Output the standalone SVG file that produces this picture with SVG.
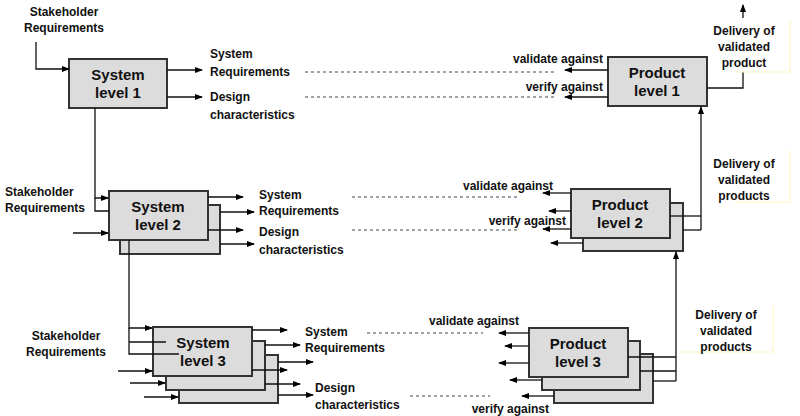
<svg xmlns="http://www.w3.org/2000/svg" width="800" height="416" viewBox="0 0 800 416">
<defs>
<marker id="a" markerWidth="8" markerHeight="6" refX="7" refY="3" orient="auto" markerUnits="userSpaceOnUse"><path d="M0,0L8,3L0,6z" fill="#000"/></marker>
<style>
.b{fill:#dcdcdc;stroke:#333;stroke-width:2}
.t{font-family:"Liberation Sans",Arial,sans-serif;font-weight:bold;font-size:12px;fill:#111}
.n{font-family:"Liberation Sans",Arial,sans-serif;font-weight:bold;font-size:15px;fill:#111;text-anchor:middle}
.c{text-anchor:middle}.e{text-anchor:end}
.l{fill:none;stroke:#111;stroke-width:1.3}
.ar{fill:none;stroke:#111;stroke-width:1.3;marker-end:url(#a)}
.d{fill:none;stroke:#444;stroke-width:1;stroke-dasharray:3,3}
</style>
</defs>
<rect width="800" height="416" fill="#fff"/>
<g id="sys1"><rect class="b" x="69" y="59" width="98" height="49"/><text class="n" x="118" y="80">System</text><text class="n" x="118" y="98">level 1</text></g>
<g id="sys2"><rect class="b" x="120" y="205" width="100" height="49"/><rect class="b" x="109" y="191" width="99" height="49"/><text class="n" x="158" y="212">System</text><text class="n" x="158" y="230">level 2</text></g>
<g id="sys3"><rect class="b" x="179" y="355" width="99" height="48"/><rect class="b" x="166" y="341" width="99" height="49"/><rect class="b" x="153" y="327" width="99" height="49"/><text class="n" x="203" y="348">System</text><text class="n" x="203" y="366">level 3</text></g>
<g id="prod1"><rect class="b" x="608" y="57" width="99" height="49"/><text class="n" x="657" y="78">Product</text><text class="n" x="657" y="96">level 1</text></g>
<g id="prod2"><rect class="b" x="583" y="203" width="100" height="48"/><rect class="b" x="571" y="189" width="99" height="49"/><text class="n" x="620" y="210">Product</text><text class="n" x="620" y="228">level 2</text></g>
<g id="prod3"><rect class="b" x="554" y="354" width="99" height="49"/><rect class="b" x="542" y="341" width="98" height="49"/><rect class="b" x="529" y="328" width="99" height="49"/><text class="n" x="578" y="349">Product</text><text class="n" x="578" y="367">level 3</text></g>
<g id="connectors">
<path class="ar" d="M36,42V69H69"/>
<path class="ar" d="M167,70H202"/><path class="ar" d="M167,97H202"/>
<path class="ar" d="M95,108V198H108"/><path class="l" d="M95,198V211H109"/><path class="ar" d="M73,233H108"/>
<path class="ar" d="M208,197H243"/><path class="ar" d="M220,212H254"/><path class="ar" d="M208,230H243"/><path class="ar" d="M220,244H254"/>
<path class="ar" d="M129,240V328H152"/><path class="l" d="M129,328V354H179"/><path class="l" d="M129,342H166"/>
<path class="ar" d="M118,371H152"/><path class="ar" d="M130,383H165"/><path class="ar" d="M144,397H178"/>
<path class="ar" d="M252,330H287"/><path class="ar" d="M265,345H300"/><path class="ar" d="M278,362H313"/><path class="ar" d="M252,370H287"/><path class="ar" d="M265,384H300"/><path class="ar" d="M278,395H313"/>
<path class="ar" d="M608,70H565"/><path class="ar" d="M608,97H565"/>
<path class="l" d="M707,88H743V72"/><path class="ar" d="M743,18V5"/>
<path class="ar" d="M701,230V107"/><path class="l" d="M670,216H701"/><path class="l" d="M683,230H701"/>
<path class="ar" d="M571,193H543"/><path class="ar" d="M571,211H549"/><path class="ar" d="M571,229H543"/><path class="ar" d="M583,243H551"/>
<path class="ar" d="M676,381V252"/><path class="l" d="M628,357H676"/><path class="l" d="M640,371H676"/><path class="l" d="M653,381H676"/>
<path class="ar" d="M529,333H499"/><path class="ar" d="M529,346H505"/><path class="ar" d="M529,363H499"/><path class="ar" d="M542,380H510"/><path class="ar" d="M554,396H522"/>
<path class="d" d="M305,72H555M305,97H555M352,197H520M352,230H520M367,333H483M410,396H490"/>
<path d="M790,20V72M734,72H790" stroke="#fff3c0" fill="none"/>
<path d="M790,150V202M734,202H790" stroke="#fff3c0" fill="none"/>
<path d="M773,306V352M680,352H773" stroke="#fff3c0" fill="none"/>
</g>
<g id="labels" class="t">
<text class="t c" x="64" y="16">Stakeholder</text><text class="t c" x="64" y="32">Requirements</text>
<text class="t" x="210" y="58">System</text><text class="t" x="210" y="76">Requirements</text>
<text class="t" x="210" y="101">Design</text><text class="t" x="210" y="119">characteristics</text>
<text class="t" x="5" y="196">Stakeholder</text><text class="t" x="5" y="212">Requirements</text>
<text class="t" x="259" y="199">System</text><text class="t" x="259" y="215">Requirements</text>
<text class="t" x="259" y="236">Design</text><text class="t" x="259" y="254">characteristics</text>
<text class="t c" x="66" y="340">Stakeholder</text><text class="t c" x="66" y="356">Requirements</text>
<text class="t" x="305" y="336">System</text><text class="t" x="305" y="352">Requirements</text>
<text class="t" x="315" y="392">Design</text><text class="t" x="315" y="409">characteristics</text>
<text class="t e" x="603" y="63">validate against</text><text class="t e" x="603" y="91">verify against</text>
<text class="t e" x="553" y="190">validate against</text><text class="t e" x="566" y="225">verify against</text>
<text class="t e" x="519" y="325">validate against</text><text class="t e" x="549" y="413">verify against</text>
<text class="t c" x="744" y="35">Delivery of</text><text class="t c" x="744" y="51">validated</text><text class="t c" x="744" y="67">product</text>
<text class="t c" x="744" y="168">Delivery of</text><text class="t c" x="744" y="184">validated</text><text class="t c" x="744" y="200">products</text>
<text class="t c" x="726" y="319">Delivery of</text><text class="t c" x="726" y="335">validated</text><text class="t c" x="726" y="351">products</text>
</g>
</svg>
